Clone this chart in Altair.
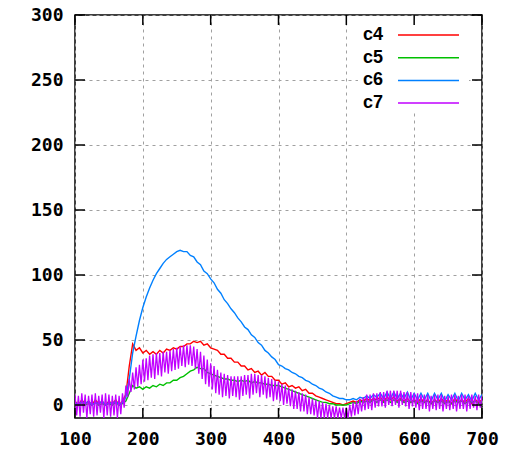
import altair as alt
import pandas as pd

# ---- data ----
x_vals = list(range(100, 701, 5))          # c4, c5, c6 sample positions
x_vals_c7 = [100 + 2.5 * i for i in range(241)]  # c7 is denser (very noisy trace)

c4 = [3, 0, 4, 1, 3, 0, 4, 1, 3, 0,
      3, 1, 4, 0, 3, 8, 30, 47, 42, 44,
      40, 42, 39, 41, 39, 42, 40, 43, 42, 44,
      43, 45, 45, 47, 47, 49, 48, 49, 46, 47,
      44, 43, 42, 39, 39, 36, 36, 33, 33, 30,
      30, 27, 28, 25, 26, 23, 25, 22, 22, 19,
      19, 16, 17, 14, 15, 13, 14, 11, 12, 9,
      9, 7, 6, 5, 4, 3, 2, 1, 1, 0,
      1, 2, 3, 2, 4, 3, 5, 3, 5, 4,
      6, 3, 6, 4, 6, 3, 5, 3, 5, 2,
      4, 2, 5, 2, 4, 1, 4, 2, 5, 2,
      4, 1, 5, 2, 4, 2, 5, 1, 4, 2,
      4]

c5 = [1, 0, 2, 0, 1, 0, 2, 0, 1, 0,
      1, 0, 2, 0, 1, 3, 9, 15, 13, 14,
      12, 14, 13, 15, 14, 16, 15, 17, 17, 19,
      19, 21, 22, 24, 26, 27, 29, 28, 28, 25,
      24, 23, 22, 21, 20, 20, 19, 19, 18, 19,
      18, 19, 17, 18, 17, 17, 16, 16, 15, 15,
      15, 14, 13, 12, 11, 10, 9, 8, 7, 6,
      5, 4, 3, 2, 2, 1, 1, 0, 0, 0,
      0, 1, 2, 1, 3, 2, 3, 2, 4, 2,
      4, 2, 4, 2, 4, 2, 4, 2, 3, 2,
      3, 1, 3, 2, 3, 1, 3, 2, 3, 1,
      3, 1, 3, 2, 3, 1, 3, 2, 3, 1,
      3]

c6 = [2, 0, 3, 1, 3, 0, 2, 1, 3, 0,
      2, 1, 3, 0, 2, 6, 20, 40, 53, 65,
      75, 83, 90, 96, 101, 105, 109, 112, 114, 116,
      118, 119, 118, 118, 115, 114, 110, 108, 103, 101,
      97, 94, 89, 86, 81, 78, 74, 71, 67, 64,
      60, 58, 54, 52, 48, 46, 42, 40, 37, 35,
      31, 30, 28, 27, 25, 24, 22, 21, 19, 18,
      16, 15, 13, 12, 10, 9, 7, 6, 5, 5,
      4, 4, 5, 4, 6, 5, 7, 5, 8, 6,
      9, 5, 10, 5, 10, 5, 9, 5, 10, 4,
      9, 4, 9, 4, 9, 3, 9, 4, 9, 3,
      8, 4, 9, 3, 9, 4, 8, 3, 9, 4,
      8]

c7 = [8, -8, 7, -9, 9, -6, 8, -10, 7, -7, 8, -9, 9, -8, 7, -6, 8, -10, 9, -8,
      8, -9, 7, -8, 8, -10, 7, -7, 9, -2, 15, 6, 20, 10, 25, 12, 29, 14, 31, 16,
      35, 18, 36, 19, 38, 21, 39, 20, 40, 23, 40, 22, 41, 25, 41, 24, 42, 26, 43, 27,
      44, 28, 45, 30, 46, 29, 46, 31, 46, 30, 45, 28, 43, 24, 41, 20, 38, 16, 35, 14,
      32, 12, 30, 9, 27, 8, 25, 6, 24, 7, 23, 5, 22, 7, 22, 6, 22, 4, 22, 7,
      23, 8, 23, 5, 24, 8, 24, 9, 23, 6, 23, 8, 22, 5, 21, 6, 20, 3, 19, 4,
      18, 3, 16, 0, 15, 1, 13, -1, 12, -3, 11, -3, 10, -5, 9, -5, 8, -7, 6, -7,
      5, -8, 4, -10, 3, -10, 2, -10, 1, -10, 0, -10, -1, -10, -1, -10, -2, -10, -2, -10,
      -2, -10, 0, -9, 2, -8, 3, -7, 5, -5, 6, -4, 8, -3, 8, -4, 9, -2, 9, -1,
      10, -1, 10, -2, 11, 0, 11, -1, 11, 0, 11, -2, 11, 0, 10, -1, 10, -3, 10, -1,
      9, -2, 9, -4, 8, -3, 8, -3, 8, -5, 7, -3, 8, -4, 8, -3, 8, -5, 7, -3,
      7, -4, 8, -3, 8, -5, 7, -3, 8, -3, 8, -5, 7, -3, 8, -2, 7, -4, 8, -2,
      7]

series_names = ["c4", "c5", "c6", "c7"]
series_colors = ["#ff0000", "#00c000", "#0080ff", "#c000ff"]
x_ticks = [100, 200, 300, 400, 500, 600, 700]
y_ticks = [0, 50, 100, 150, 200, 250, 300]

# ---- build table ----
rows = []
for name, xs_, vals in zip(series_names, [x_vals, x_vals, x_vals, x_vals_c7],
                           [c4, c5, c6, c7]):
    for xv, yv in zip(xs_, vals):
        rows.append({"x": xv, "v": yv, "s": name})
df = pd.DataFrame(rows)

W, H = 407, 403
TICK = 10

xs = alt.Scale(domain=[100, 700], nice=False, zero=False)
ys = alt.Scale(domain=[-10, 300], nice=False, zero=False)

label_font = "DejaVu Sans Mono"
common = dict(title=None, grid=True, gridDash=[3, 4], gridColor="#a0a0a0",
              gridWidth=1, ticks=False, tickSize=0, domain=False,
              labelFont=label_font, labelFontSize=18, labelFontWeight="bold",
              labelColor="#000", labelFlush=False, labelOverlap=False)
x_axis = alt.Axis(values=x_ticks, labelPadding=12, **common)
y_axis = alt.Axis(values=y_ticks, labelPadding=12, **common)

layers = []
for name, col in zip(series_names, series_colors):
    layers.append(
        alt.Chart(df).transform_filter(alt.datum.s == name)
        .mark_line(color=col, strokeWidth=1.4 if name != "c7" else 1.3, clip=True)
        .encode(x=alt.X("x:Q", scale=xs, axis=x_axis),
                y=alt.Y("v:Q", scale=ys, axis=y_axis))
    )

# legend background box
layers.append(
    alt.Chart(pd.DataFrame({"a": [0]})).mark_rect(color="white")
    .encode(x=alt.value(283), x2=alt.value(394), y=alt.value(6), y2=alt.value(98))
)

# legend entries
for i, (name, col) in enumerate(zip(series_names, series_colors)):
    ly = 20 + 22.7 * i
    layers.append(
        alt.Chart(pd.DataFrame({"s": [name]})).mark_text(
            align="right", baseline="middle", font="Liberation Sans",
            fontSize=18, fontWeight="bold", color="#000")
        .encode(text="s:N", x=alt.value(308), y=alt.value(ly))
    )
    layers.append(
        alt.Chart(pd.DataFrame({"s": [name]})).mark_rule(color=col, strokeWidth=1.5)
        .encode(x=alt.value(323), x2=alt.value(384), y=alt.value(ly))
    )

# inward tick marks on all four sides
xt = pd.DataFrame({"t": x_ticks})
yt = pd.DataFrame({"t": y_ticks})
layers.append(
    alt.Chart(xt).mark_rule(color="#000", strokeWidth=1.5)
    .encode(x=alt.X("t:Q", scale=xs, axis=x_axis), y=alt.value(H), y2=alt.value(H - TICK))
)
layers.append(
    alt.Chart(xt).mark_rule(color="#000", strokeWidth=1.5)
    .encode(x=alt.X("t:Q", scale=xs, axis=x_axis), y=alt.value(0), y2=alt.value(TICK))
)
layers.append(
    alt.Chart(yt).mark_rule(color="#000", strokeWidth=1.5)
    .encode(y=alt.Y("t:Q", scale=ys, axis=y_axis), x=alt.value(0), x2=alt.value(TICK))
)
layers.append(
    alt.Chart(yt).mark_rule(color="#000", strokeWidth=1.5)
    .encode(y=alt.Y("t:Q", scale=ys, axis=y_axis), x=alt.value(W - TICK), x2=alt.value(W))
)

chart = alt.layer(*layers).properties(
    width=W, height=H,
    autosize=alt.AutoSizeParams(type="none"),
    padding={"left": 75, "top": 15, "right": 28, "bottom": 35},
    background="white",
).configure_view(stroke="#000", strokeWidth=1.5)

chart.save("out.html", embed_options={"renderer": "svg", "actions": False})
